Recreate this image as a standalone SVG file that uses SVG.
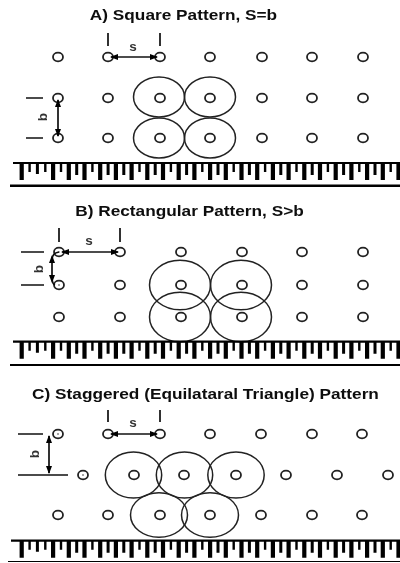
<svg xmlns="http://www.w3.org/2000/svg" width="400" height="563" viewBox="0 0 400 563">
<style>
.title{font-family:"Liberation Sans",Arial,sans-serif;font-weight:bold;font-size:15px;fill:#111;text-anchor:middle}
.lab{font-family:"Liberation Sans",Arial,sans-serif;font-weight:bold;font-size:13.5px;fill:#333;text-anchor:middle}
.h{fill:none;stroke:#222;stroke-width:1.8}
.c{fill:none;stroke:#222;stroke-width:1.5}
.d{fill:none;stroke:#111;stroke-width:1.7}
.dot{fill:#333}
.lg{fill:none;stroke:#000;stroke-width:4.2}
.md{fill:none;stroke:#000;stroke-width:3}
.sh{fill:none;stroke:#000;stroke-width:2.4}
.rt{fill:none;stroke:#000;stroke-width:2.2}
</style>
<defs>
<ellipse id="hole" class="h" rx="5" ry="4.300"/>
<marker id="ah" viewBox="0 0 8 6" refX="7" refY="3" markerWidth="8" markerHeight="6" markerUnits="userSpaceOnUse" orient="auto-start-reverse"><path d="M0 0L8 3L0 6Z" fill="#000"/></marker>
<g id="ticks">
<path class="lg" d="M21.7 0V17M53.1 0V17M68.8 0V17M84.5 0V17M100.2 0V17M115.9 0V17M131.6 0V17M147.3 0V17M163 0V17M178.7 0V17M194.4 0V17M210.1 0V17M225.8 0V17M241.5 0V17M257.2 0V17M272.9 0V17M288.6 0V17M304.3 0V17M320 0V17M335.7 0V17M351.4 0V17M367.1 0V17M382.8 0V17M398.5 0V17"/>
<path class="md" d="M37.4 0V11M76.7 0V12M108.1 0V12M123.8 0V12M155.2 0V12M186.6 0V12M218 0V12M249.4 0V12M280.8 0V12M312.2 0V12M343.6 0V12M375 0V12"/>
<path class="sh" d="M29.6 0V9M45.3 0V9M61 0V9M92.4 0V9M139.5 0V9M170.9 0V9M202.3 0V9M233.7 0V9M265.1 0V9M296.5 0V9M327.9 0V9M359.3 0V9M390.7 0V9"/>
</g>
<filter id="soft" x="0" y="0" width="1" height="1"><feGaussianBlur stdDeviation="0.45"/></filter>
</defs>
<rect width="400" height="563" fill="#fff"/>
<g filter="url(#soft)">
<g id="panel-a">
<text class="title" transform="translate(183.500 20) scale(1.150 1)">A) Square Pattern, S=b</text>
<g id="a-holes">
<use href="#hole" x="58" y="57"/><use href="#hole" x="108" y="57"/><use href="#hole" x="160" y="57"/><use href="#hole" x="210" y="57"/><use href="#hole" x="262" y="57"/><use href="#hole" x="312" y="57"/><use href="#hole" x="363" y="57"/>
<use href="#hole" x="58" y="98"/><use href="#hole" x="108" y="98"/><use href="#hole" x="160" y="98"/><use href="#hole" x="210" y="98"/><use href="#hole" x="262" y="98"/><use href="#hole" x="312" y="98"/><use href="#hole" x="363" y="98"/>
<use href="#hole" x="58" y="138"/><use href="#hole" x="108" y="138"/><use href="#hole" x="160" y="138"/><use href="#hole" x="210" y="138"/><use href="#hole" x="262" y="138"/><use href="#hole" x="312" y="138"/><use href="#hole" x="363" y="138"/>
</g>
<g id="a-circles">
<ellipse class="c" cx="159" cy="97" rx="25.5" ry="20"/><ellipse class="c" cx="210" cy="97" rx="25.5" ry="20"/>
<ellipse class="c" cx="159" cy="138" rx="25.5" ry="20"/><ellipse class="c" cx="210" cy="138" rx="25.5" ry="20"/>
</g>
<g id="a-connectors">
<path class="d" d="M108 33V46M160 33V46M26 98H43M26 138H43"/>
<path class="d" d="M111 57H157" marker-start="url(#ah)" marker-end="url(#ah)"/>
<path class="d" d="M58 100V136" marker-start="url(#ah)" marker-end="url(#ah)"/>
</g>
<text class="lab" x="133" y="51">s</text>
<text class="lab" transform="translate(47 117) rotate(-90)">b</text>
<g id="a-ruler">
<path class="rt" d="M13 163H400"/><path d="M10 185.700H400" fill="none" stroke="#000" stroke-width="2.600"/>
<use href="#ticks" y="163"/>
</g>
</g>
<g id="panel-b">
<text class="title" transform="translate(189.500 216) scale(1.150 1)">B) Rectangular Pattern, S&gt;b</text>
<g id="b-holes">
<use href="#hole" x="59" y="252"/><use href="#hole" x="120" y="252"/><use href="#hole" x="181" y="252"/><use href="#hole" x="242" y="252"/><use href="#hole" x="302" y="252"/><use href="#hole" x="363" y="252"/>
<use href="#hole" x="59" y="285"/><use href="#hole" x="120" y="285"/><use href="#hole" x="181" y="285"/><use href="#hole" x="242" y="285"/><use href="#hole" x="302" y="285"/><use href="#hole" x="363" y="285"/>
<use href="#hole" x="59" y="317"/><use href="#hole" x="120" y="317"/><use href="#hole" x="181" y="317"/><use href="#hole" x="242" y="317"/><use href="#hole" x="302" y="317"/><use href="#hole" x="363" y="317"/>
<circle class="dot" cx="59" cy="252" r=".7"/><circle class="dot" cx="59" cy="285" r=".8"/>
</g>
<g id="b-circles">
<ellipse class="c" cx="180" cy="285" rx="30.5" ry="24.7"/><ellipse class="c" cx="241" cy="285" rx="30.5" ry="24.7"/>
<ellipse class="c" cx="180" cy="317" rx="30.5" ry="24.7"/><ellipse class="c" cx="241" cy="317" rx="30.500" ry="24.700"/>
</g>
<g id="b-connectors">
<path class="d" d="M59 228V242M120 228V242M21 252H44M21 285H44"/>
<path class="d" d="M62 252H118" marker-start="url(#ah)" marker-end="url(#ah)"/>
<path class="d" d="M59 252Q52 253 52 260V277Q52 284 55 285"/>
<path d="M52 255L49 263H55ZM52 283L49 275H55Z" fill="#000"/>
</g>
<text class="lab" x="89" y="245">s</text>
<text class="lab" transform="translate(43 269) rotate(-90)">b</text>
<g id="b-ruler">
<path class="rt" d="M13 341.700H400"/><path d="M10 365H400" fill="none" stroke="#000" stroke-width="2.200"/>
<use href="#ticks" y="341.700"/>
</g>
</g>
<g id="panel-c">
<text class="title" transform="translate(205.500 399) scale(1.150 1)">C) Staggered (Equilataral Triangle) Pattern</text>
<g id="c-holes">
<use href="#hole" x="58" y="434"/><use href="#hole" x="108" y="434"/><use href="#hole" x="160" y="434"/><use href="#hole" x="210" y="434"/><use href="#hole" x="261" y="434"/><use href="#hole" x="312" y="434"/><use href="#hole" x="362" y="434"/>
<use href="#hole" x="83" y="475"/><use href="#hole" x="134" y="475"/><use href="#hole" x="184" y="475"/><use href="#hole" x="236" y="475"/><use href="#hole" x="286" y="475"/><use href="#hole" x="337" y="475"/><use href="#hole" x="388" y="475"/>
<use href="#hole" x="58" y="515"/><use href="#hole" x="108" y="515"/><use href="#hole" x="160" y="515"/><use href="#hole" x="210" y="515"/><use href="#hole" x="261" y="515"/><use href="#hole" x="312" y="515"/><use href="#hole" x="362" y="515"/>
<circle class="dot" cx="58" cy="434" r=".8"/><circle class="dot" cx="83" cy="475" r=".8"/>
</g>
<g id="c-circles">
<ellipse class="c" cx="133.500" cy="475" rx="28.200" ry="23"/><ellipse class="c" cx="184.500" cy="475" rx="28.200" ry="23"/><ellipse class="c" cx="236" cy="475" rx="28.200" ry="23"/>
<ellipse class="c" cx="159" cy="515" rx="28.500" ry="22.300"/><ellipse class="c" cx="210" cy="515" rx="28.500" ry="22.300"/>
</g>
<g id="c-connectors">
<path class="d" d="M108 410V422M160 410V422M18 434H43M18 475H68"/>
<path class="d" d="M111 434H157" marker-start="url(#ah)" marker-end="url(#ah)"/>
<path class="d" d="M49 436V473" marker-start="url(#ah)" marker-end="url(#ah)"/>
</g>
<text class="lab" x="133" y="427">s</text>
<text class="lab" transform="translate(39 454) rotate(-90)">b</text>
<g id="c-ruler">
<path class="rt" d="M11 540.700H400"/><path d="M8 561.800H400" fill="none" stroke="#000" stroke-width="1.800"/>
<use href="#ticks" y="540.700"/>
</g>
</g>
</g>
</svg>
